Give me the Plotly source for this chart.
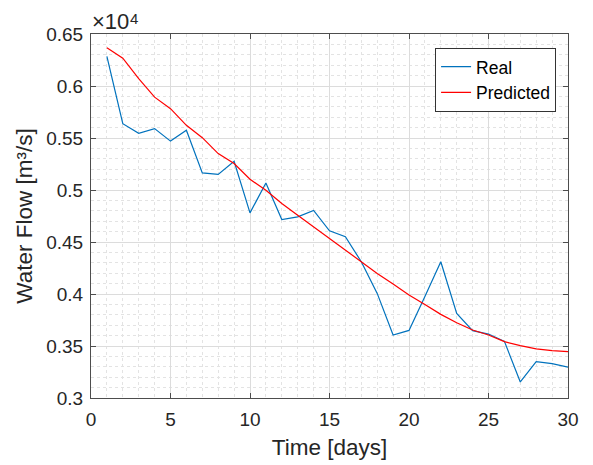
import plotly.graph_objects as go

days = list(range(1, 31))
real = [0.6284, 0.5638, 0.5545, 0.5590, 0.5470, 0.5574, 0.5164, 0.5150, 0.5276, 0.4780,
        0.5068, 0.4716, 0.4742, 0.4803, 0.4607, 0.4550, 0.4310, 0.4006, 0.3606, 0.3650,
        0.3975, 0.4310, 0.3814, 0.3647, 0.3615, 0.3545, 0.3154, 0.3349, 0.3330, 0.3296]
predicted = [0.6367, 0.6268, 0.6070, 0.5893, 0.5782, 0.5622, 0.5503, 0.5350, 0.5254, 0.5103,
             0.4998, 0.4870, 0.4758, 0.4646, 0.4534, 0.4422, 0.4310, 0.4198, 0.4096, 0.3990,
             0.3900, 0.3804, 0.3724, 0.3654, 0.3606, 0.3542, 0.3503, 0.3472, 0.3455, 0.3446]
xticks = [0, 5, 10, 15, 20, 25, 30]
yticks = [0.3, 0.35, 0.4, 0.45, 0.5, 0.55, 0.6, 0.65]
yticklabels = ["0.3", "0.35", "0.4", "0.45", "0.5", "0.55", "0.6", "0.65"]

font = "Liberation Sans, Arial, sans-serif"
axcol = "#262626"

fig = go.Figure()
fig.add_trace(go.Scatter(x=days, y=real, mode="lines", name="Real",
                         line=dict(color="#0072BD", width=1.2)))
fig.add_trace(go.Scatter(x=days, y=predicted, mode="lines", name="Predicted",
                         line=dict(color="#FF0000", width=1.2)))

common = dict(showline=True, linecolor="#4d4d4d", linewidth=1, mirror="ticks",
              ticks="inside", ticklen=5, tickcolor="#4d4d4d", zeroline=False,
              showgrid=True, gridcolor="#dcdcdc", gridwidth=1, automargin=False,
              tickfont=dict(size=19, color=axcol, family=font))

fig.update_xaxes(range=[0, 30], tickvals=xticks, ticklabelstandoff=4,
                 title=dict(text="Time [days]", font=dict(size=22.5, color=axcol, family=font), standoff=10),
                 minor=dict(dtick=1, showgrid=True, gridcolor="#e3e3e3", griddash="dot", ticks=""),
                 **common)
fig.update_yaxes(range=[0.3, 0.65], tickvals=yticks, ticktext=yticklabels, ticklabelstandoff=3,
                 title=dict(text="Water Flow [m³/s]", font=dict(size=22.5, color=axcol, family=font), standoff=7),
                 minor=dict(dtick=0.01, showgrid=True, gridcolor="#e3e3e3", griddash="dot", ticks=""),
                 **common)

# axis exponent label "×10^4"
fig.add_annotation(text="×10", xref="paper", yref="paper", x=0, y=1.0,
                   xanchor="left", yanchor="bottom", showarrow=False, xshift=0, yshift=-1,
                   borderpad=0, font=dict(size=22, color=axcol, family=font))
fig.add_annotation(text="4", xref="paper", yref="paper", x=0, y=1.0,
                   xanchor="left", yanchor="bottom", showarrow=False, xshift=38, yshift=6,
                   borderpad=0, font=dict(size=15, color=axcol, family=font))

# page body has an 8px default margin; figure sized so the plot area lands where the reference has it
fig.update_layout(width=585, height=457,
                  margin=dict(l=83, r=25, t=26, b=67, autoexpand=False),
                  paper_bgcolor="white", plot_bgcolor="white",
                  font=dict(family=font, color=axcol),
                  legend=dict(x=0.975, y=0.962, xanchor="right", yanchor="top",
                              bgcolor="white", bordercolor="#333333", borderwidth=1,
                              font=dict(size=17.5, color="#000000", family=font),
                              tracegroupgap=0),
                  showlegend=True)

fig.write_html("out.html")
